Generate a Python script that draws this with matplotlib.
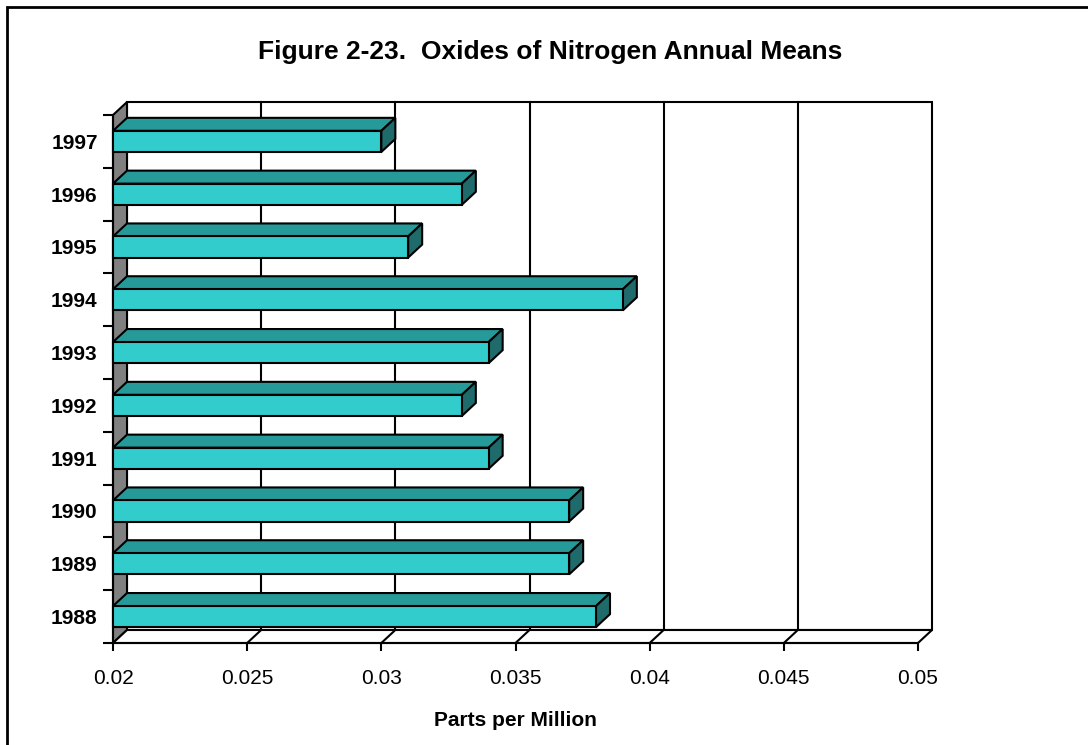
import numpy as np
import matplotlib.pyplot as plt
from matplotlib.patches import Polygon, Rectangle

# data (ppm)
years = ['1988', '1989', '1990', '1991', '1992', '1993', '1994', '1995', '1996', '1997']
means = [0.038, 0.037, 0.037, 0.034, 0.033, 0.034, 0.039, 0.031, 0.033, 0.030]
xticks = [0.02, 0.025, 0.03, 0.035, 0.04, 0.045, 0.05]
xlabels = ['0.02', '0.025', '0.03', '0.035', '0.04', '0.045', '0.05']

front_col = '#33CCCC'
top_col = '#269999'
side_col = '#1F6B6B'
wall_col = '#808080'
lw = 1.5

fig = plt.figure(figsize=(10.88, 7.45), dpi=100)
ax = fig.add_axes([113 / 1088, 102 / 745, 805 / 1088, 528 / 745])
x0, x1 = 0.02, 0.05
y0, y1 = -0.5, len(years) - 0.5
ax.set_xlim(x0, x1)
ax.set_ylim(y0, y1)

# depth of the fake 3d box, in pixels -> data units
fig.canvas.draw()
p = ax.transData.transform((x0, y0))
q = ax.transData.inverted().transform((p[0] + 14, p[1] + 13))
ddx, ddy = q[0] - x0, q[1] - y0

def poly(pts, fc, z):
    ax.add_patch(Polygon(pts, closed=True, facecolor=fc, edgecolor='black',
                         linewidth=lw, clip_on=False, zorder=z, joinstyle='miter'))

# back wall + grid
poly([(x0 + ddx, y0 + ddy), (x1 + ddx, y0 + ddy), (x1 + ddx, y1 + ddy), (x0 + ddx, y1 + ddy)], 'white', 1)
for xv in xticks[1:-1]:
    ax.plot([xv + ddx, xv + ddx], [y0 + ddy, y1 + ddy], color='black', lw=lw, clip_on=False, zorder=2)
# left wall
poly([(x0, y0), (x0 + ddx, y0 + ddy), (x0 + ddx, y1 + ddy), (x0, y1)], wall_col, 3)
# floor
poly([(x0, y0), (x1, y0), (x1 + ddx, y0 + ddy), (x0 + ddx, y0 + ddy)], 'white', 3)
for xv in xticks[1:-1]:
    ax.plot([xv, xv + ddx], [y0, y0 + ddy], color='black', lw=lw, clip_on=False, zorder=3)

# bars, drawn back to front
h = 0.40
for i in range(len(years) - 1, -1, -1):
    v = means[i]
    b, t = i - h / 2, i + h / 2
    z = 10 + (len(years) - i)
    poly([(x0, t), (v, t), (v + ddx, t + ddy), (x0 + ddx, t + ddy)], top_col, z)
    poly([(v, b), (v + ddx, b + ddy), (v + ddx, t + ddy), (v, t)], side_col, z)
    poly([(x0, b), (v, b), (v, t), (x0, t)], front_col, z)

for s in ['top', 'right']:
    ax.spines[s].set_visible(False)
for s in ['left', 'bottom']:
    ax.spines[s].set_linewidth(lw)
    ax.spines[s].set_zorder(5)

ax.set_xticks(xticks)
ax.set_xticklabels(xlabels, fontsize=15, fontfamily='Liberation Sans')
ax.tick_params(axis='x', direction='out', length=6, width=lw, pad=13)
ax.set_yticks(range(len(years)))
ax.set_yticklabels(years, fontsize=15, fontweight='bold', fontfamily='Liberation Sans')
ax.set_yticks(np.arange(y0, y1 + 0.5, 1.0), minor=True)
ax.tick_params(axis='y', which='major', length=0, pad=11)
ax.tick_params(axis='y', which='minor', direction='out', length=7, width=lw)

ax.set_xlabel('Parts per Million', fontsize=15, fontweight='bold',
              fontfamily='Liberation Sans', labelpad=16)
fig.text(550 / 1088, 1 - 52 / 745, 'Figure 2-23.  Oxides of Nitrogen Annual Means',
         ha='center', va='center', fontsize=19, fontweight='bold', fontfamily='Liberation Sans')

# outer frame
fig.add_artist(Rectangle((7 / 1088, -0.05), 1.2, 1 - 7 / 745 + 0.05, transform=fig.transFigure,
                         fill=False, edgecolor='black', linewidth=2))

fig.savefig('out.png', dpi=100)
